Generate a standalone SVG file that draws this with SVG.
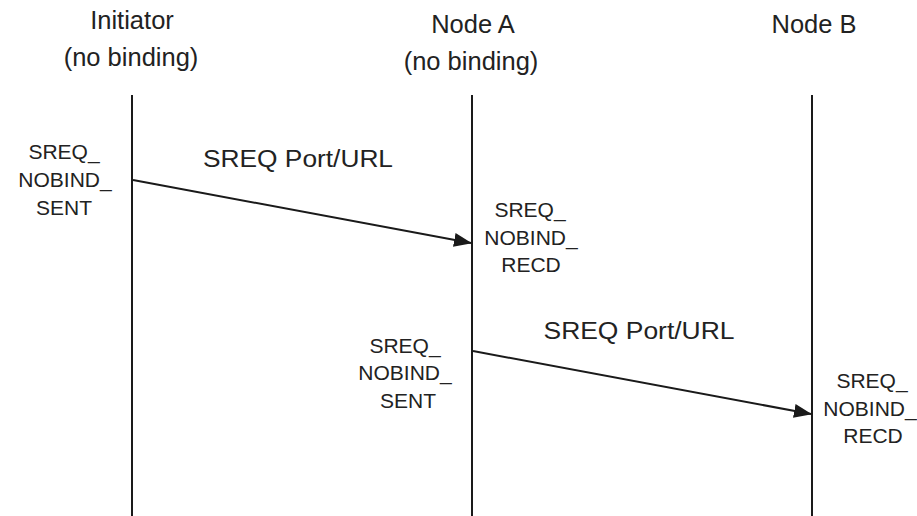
<svg xmlns="http://www.w3.org/2000/svg" width="917" height="516" viewBox="0 0 917 516">
  <style>
    .hdr { font-family: "Liberation Sans", Arial, sans-serif; font-size: 25.5px; fill: #222; text-anchor: middle; }
    .msg { font-family: "Liberation Sans", Arial, sans-serif; font-size: 23px; fill: #222; text-anchor: middle; }
    .st { font-family: "Liberation Sans", Arial, sans-serif; font-size: 21px; fill: #222; text-anchor: middle; }
    .life { stroke: #1a1a1a; stroke-width: 2; fill: none; }
    .arrow { stroke: #1a1a1a; stroke-width: 2; fill: none; marker-end: url(#head); }
  </style>
  <defs>
    <marker id="head" viewBox="0 0 18 14" refX="17" refY="7" markerWidth="18" markerHeight="14" markerUnits="userSpaceOnUse" orient="auto">
      <path d="M0,0 L18,7 L0,14 Z" fill="#1a1a1a"/>
    </marker>
  </defs>
  <rect width="917" height="516" fill="#ffffff"/>

  <!-- Lifeline participants -->
  <g id="initiator">
    <text class="hdr" x="132" y="29">Initiator</text>
    <text class="hdr" x="131" y="66">(no binding)</text>
    <line class="life" x1="132" y1="95" x2="132" y2="516"/>
  </g>
  <g id="node-a">
    <text class="hdr" x="473" y="33">Node A</text>
    <text class="hdr" x="471" y="70">(no binding)</text>
    <line class="life" x1="472" y1="95" x2="472" y2="516"/>
  </g>
  <g id="node-b">
    <text class="hdr" x="814" y="33">Node B</text>
    <line class="life" x1="812" y1="95" x2="812" y2="516"/>
  </g>

  <!-- State labels -->
  <g id="state-initiator-sent">
    <text class="st" x="64" y="159">SREQ_</text>
    <text class="st" x="65" y="187">NOBIND_</text>
    <text class="st" x="64" y="215">SENT</text>
  </g>
  <g id="state-node-a-recd">
    <text class="st" x="530" y="217">SREQ_</text>
    <text class="st" x="531" y="245">NOBIND_</text>
    <text class="st" x="531" y="272">RECD</text>
  </g>
  <g id="state-node-a-sent">
    <text class="st" x="405" y="353">SREQ_</text>
    <text class="st" x="405" y="380">NOBIND_</text>
    <text class="st" x="408" y="408">SENT</text>
  </g>
  <g id="state-node-b-recd">
    <text class="st" x="872" y="388">SREQ_</text>
    <text class="st" x="870" y="416">NOBIND_</text>
    <text class="st" x="873" y="443">RECD</text>
  </g>

  <!-- Messages -->
  <g id="connectors">
    <line class="arrow" x1="133" y1="180" x2="471" y2="243"/>
    <text class="msg" x="298" y="167" textLength="190" lengthAdjust="spacingAndGlyphs">SREQ Port/URL</text>
    <line class="arrow" x1="473" y1="351" x2="811" y2="414"/>
    <text class="msg" x="639" y="339" textLength="191" lengthAdjust="spacingAndGlyphs">SREQ Port/URL</text>
  </g>
</svg>
